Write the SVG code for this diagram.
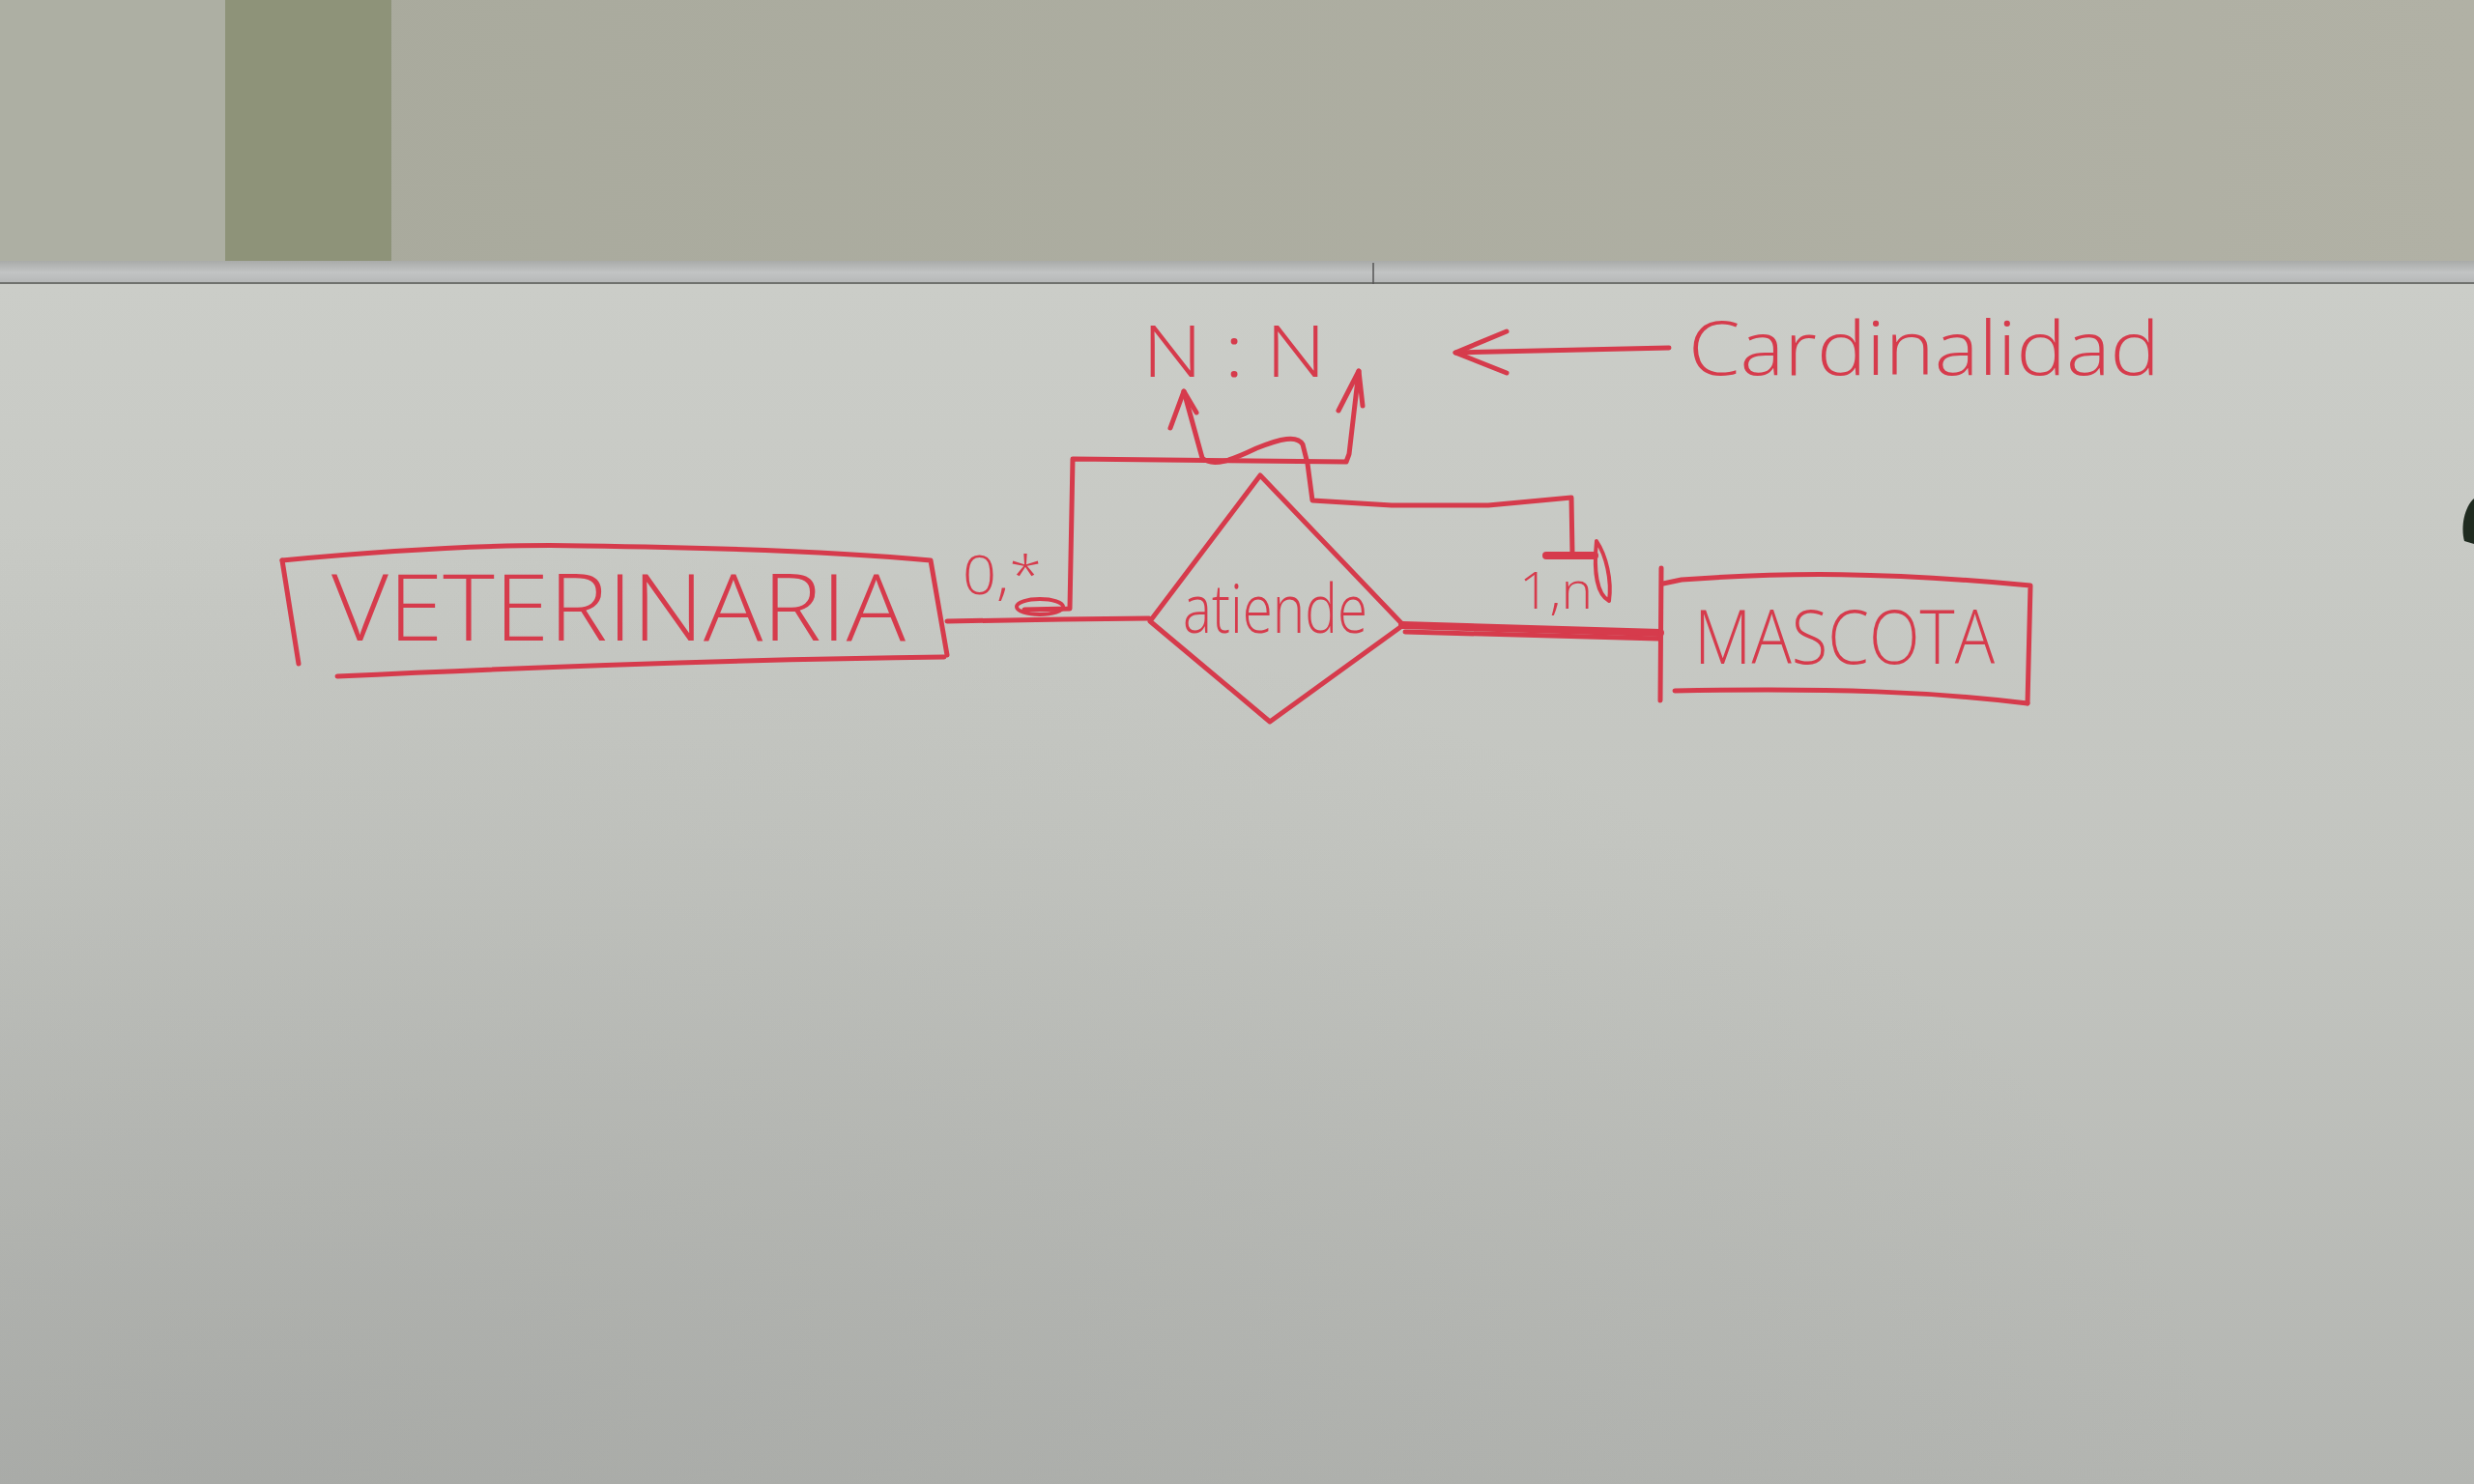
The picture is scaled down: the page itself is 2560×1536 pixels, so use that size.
<svg xmlns="http://www.w3.org/2000/svg" width="2560" height="1536" viewBox="0 0 2560 1536">
<defs>
<linearGradient id="wall" x1="0" y1="0" x2="1" y2="0">
<stop offset="0" stop-color="#a8a99c"/>
<stop offset="1" stop-color="#b1b1a5"/>
</linearGradient>
<linearGradient id="board" x1="0" y1="0" x2="0" y2="1">
<stop offset="0" stop-color="#cbcdc8"/>
<stop offset="0.5" stop-color="#c3c5c0"/>
<stop offset="1" stop-color="#b3b5b1"/>
</linearGradient>
<radialGradient id="shade" cx="0.1" cy="1" r="0.8">
<stop offset="0" stop-color="#8e908e" stop-opacity="0.3"/>
<stop offset="1" stop-color="#8e908e" stop-opacity="0"/>
</radialGradient>
<linearGradient id="frame" x1="0" y1="0" x2="0" y2="1">
<stop offset="0" stop-color="#a9aba9"/>
<stop offset="0.5" stop-color="#c2c4c4"/>
<stop offset="1" stop-color="#b4b6b6"/>
</linearGradient>
</defs>
<style>
.ink{fill:none;stroke:#d63b4c;stroke-width:5;stroke-linecap:round;stroke-linejoin:round}
.thick{stroke-width:8}
.txt{fill:#d63b4c;font-family:"Open Sans","Liberation Sans",Arial,sans-serif;font-weight:300}
</style>
<!-- background scene -->
<rect x="0" y="0" width="2560" height="272" fill="url(#wall)"/>
<rect x="0" y="0" width="233" height="272" fill="#adafa3"/>
<rect x="233" y="0" width="172" height="272" fill="#8e9379"/>
<rect x="0" y="270" width="2560" height="24" fill="url(#frame)"/>
<line x1="0" y1="293" x2="2560" y2="293" stroke="#6f716d" stroke-width="2"/>
<line x1="1421" y1="272" x2="1421" y2="294" stroke="#555" stroke-width="1.5"/>
<rect x="0" y="294" width="2560" height="1242" fill="url(#board)"/>
<rect x="0" y="294" width="2560" height="1242" fill="url(#shade)"/>
<path d="M2560,516 C2550,525 2546,545 2550,560 L2560,563 Z" fill="#1f2b20"/>

<g id="connectors">
<path class="ink" d="M980,643 L1100,641 L1189,640"/>
<path class="ink thick" d="M1451,647 L1718,655"/>
<path class="ink" d="M1454,654 L1716,661"/>
<path class="ink" d="M1060,631 L1107,630 L1110,475 L1393,478 L1396,470 L1406,384"/>
<path class="ink" d="M1385,425 L1406,384 L1410,420"/>
<path class="ink" d="M1627,573 L1626,515 L1540,523 L1440,523 L1358,518 L1353,480 L1348,460 C1342,450 1325,454 1300,464 C1275,476 1255,484 1244,474 L1225,405"/>
<path class="ink" d="M1211,443 L1225,405 L1238,427"/>
<path class="ink thick" d="M1600,575 L1650,575"/>
<path class="ink" d="M1727,360 L1506,365"/>
<path class="ink" d="M1559,343 L1506,365 L1559,386"/>
</g>

<g id="veterinaria">
<path class="ink" d="M292,580 C420,568 520,563 604,565 C760,567 880,572 963,580 L980,678"/>
<path class="ink" d="M292,580 L309,687"/>
<path class="ink" d="M349,700 C560,690 800,682 977,680"/>
<text class="txt" x="343" y="663" font-size="95" textLength="594" lengthAdjust="spacingAndGlyphs">VETERINARIA</text>
</g>

<g id="atiende">
<path class="ink" d="M1304,492 L1452,647 L1314,747 L1190,643 Z"/>
<text class="txt" x="1224" y="655" font-size="70" textLength="191" lengthAdjust="spacingAndGlyphs">atiende</text>
</g>

<g id="mascota">
<path class="ink" d="M1719,588 L1718,725"/>
<path class="ink" d="M1721,604 L1740,600 C1850,592 1950,592 2101,606 L2098,728"/>
<path class="ink" d="M1733,715 C1900,712 2000,716 2098,728"/>
<text class="txt" x="1753" y="687" font-size="77" textLength="311" lengthAdjust="spacingAndGlyphs">MASCOTA</text>
</g>

<g id="labels">
<text class="txt" x="996" y="615" font-size="56" textLength="82" lengthAdjust="spacingAndGlyphs">0,*</text>
<ellipse class="ink" cx="1076" cy="628" rx="24" ry="8" style="stroke-width:4"/>
<text class="txt" x="1572" y="630" font-size="54" textLength="76" lengthAdjust="spacingAndGlyphs">1,n</text>
<path class="ink" style="stroke-width:4" d="M1652,560 C1649,590 1652,615 1665,622 C1668,600 1662,575 1652,560"/>
<text class="txt" x="1182" y="390" font-size="74" textLength="190" lengthAdjust="spacingAndGlyphs">N : N</text>
<text class="txt" x="1747" y="388" font-size="78" textLength="488" lengthAdjust="spacingAndGlyphs">Cardinalidad</text>
</g>
</svg>
